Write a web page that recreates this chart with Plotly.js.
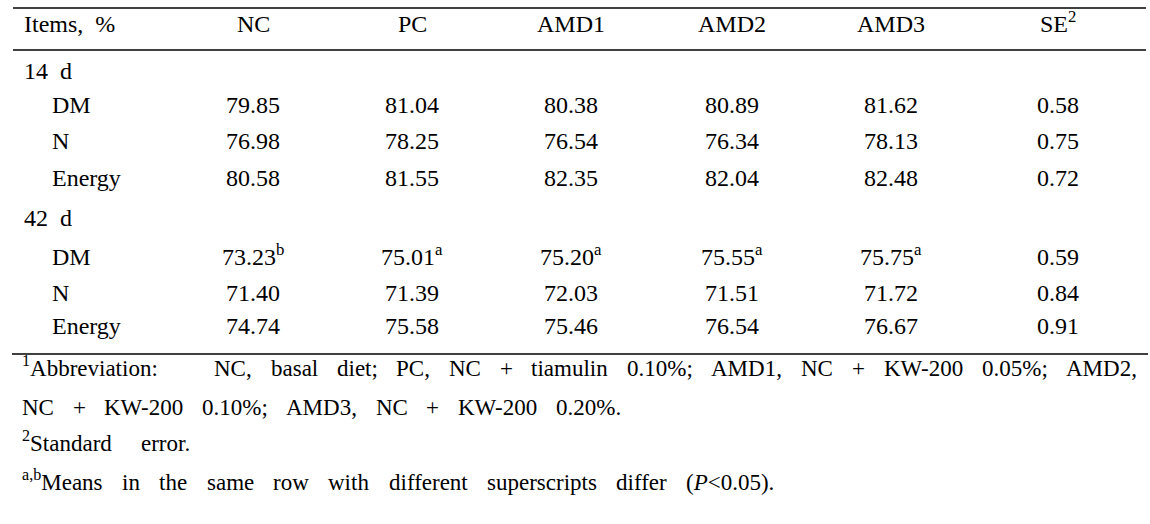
<!DOCTYPE html>
<html><head><meta charset="utf-8">
<script src="https://cdn.plot.ly/plotly-3.0.1.min.js"></script>
<style>html,body{margin:0;padding:0;background:#fff;overflow:hidden}</style>
</head><body><div id="chart" style="width:1150px;height:524px"></div>
<script>
// ---- data ----
const columns = ['NC', 'PC', 'AMD1', 'AMD2', 'AMD3', 'SE<sup>2</sup>'];
const itemsHeader = 'Items,\u00a0\u00a0%';
const periods = ['14\u00a0\u00a0d', '42\u00a0\u00a0d'];
const items = ['DM', 'N', 'Energy'];
const d14DM = [79.85, 81.04, 80.38, 80.89, 81.62, 0.58];
const d14N = [76.98, 78.25, 76.54, 76.34, 78.13, 0.75];
const d14Energy = [80.58, 81.55, 82.35, 82.04, 82.48, 0.72];
const d42DM = [73.23, 75.01, 75.20, 75.55, 75.75, 0.59];
const d42N = [71.40, 71.39, 72.03, 71.51, 71.72, 0.84];
const d42Energy = [74.74, 75.58, 75.46, 76.54, 76.67, 0.91];
const d42DMsup = ['b', 'a', 'a', 'a', 'a', ''];
const footnote1 = '<sup>1</sup>Abbreviation:   NC, basal diet; PC, NC + tiamulin 0.10%; AMD1, NC + KW-200 0.05%; AMD2,';
const footnote2 = 'NC + KW-200 0.10%; AMD3, NC + KW-200 0.20%.';
const footnote3 = '<sup>2</sup>Standard error.';
const footnote4 = '<sup>a,b</sup>Means in the same row with different superscripts differ (<i>P</i>&lt;0.05).';

// ---- layout (positions / styles) ----
const W = 1150, H = 524;
const FONT = 'Liberation Serif';
const FS = 24, FFS = 23;
const colX = [253, 412, 571, 732, 891, 1058];
const labelX = 24, itemX = 52;
const headerBase = 32;
const periodBase = [79, 226];
const itemBase = [[113, 149, 186], [265, 301, 334]];
const footBase = [376, 415, 451, 490];
const footStart = 22;
const footEnd = [1137, 621, 190, 773];

const ann = [];
function addText(text, x, base, anchor, size) {
  ann.push({
    text: text, x: x, y: base + 0.216 * size, xref: 'x', yref: 'y',
    xanchor: anchor, yanchor: 'bottom', showarrow: false,
    borderpad: 0, borderwidth: 0,
    font: {family: FONT, size: size, color: '#000'}
  });
}

// header
addText(itemsHeader, labelX, headerBase, 'left', FS);
columns.forEach((c, i) => addText(c, colX[i], headerBase, 'center', FS));

// body
const blocks = [
  [d14DM, d14N, d14Energy],
  [d42DM, d42N, d42Energy]
];
const sups = [[null, null, null], [d42DMsup, null, null]];
blocks.forEach((rows, p) => {
  addText(periods[p], labelX, periodBase[p], 'left', FS);
  rows.forEach((vals, r) => {
    addText(items[r], itemX, itemBase[p][r], 'left', FS);
    vals.forEach((v, i) => {
      let t = v.toFixed(2);
      const s = sups[p][r];
      if (s && s[i]) t += '<sup>' + s[i] + '</sup>';
      addText(t, colX[i], itemBase[p][r], 'center', FS);
    });
  });
});

// footnotes: distribute words between start and end
const cv = document.createElement('canvas').getContext('2d');
function mw(s, size) {
  s = s.replace(/<\/?i>/g, '').replace(/&lt;/g, '<');
  cv.font = size + 'px "Liberation Serif"';
  return cv.measureText(s).width;
}
function tokWidth(tok, size) {
  let w = 0, last = 0, m;
  const re = /<sup>(.*?)<\/sup>/g;
  while ((m = re.exec(tok))) {
    w += mw(tok.slice(last, m.index), size);
    w += mw(m[1], size * 0.7);
    last = re.lastIndex;
  }
  return w + mw(tok.slice(last), size);
}
[footnote1, footnote2, footnote3, footnote4].forEach((line, li) => {
  const toks = line.split(' ');
  const widths = toks.map(t => tokWidth(t, FFS));
  const total = widths.reduce((a, b) => a + b, 0);
  const gap = (footEnd[li] - footStart - total) / (toks.length - 1);
  let x = footStart;
  toks.forEach((t, k) => {
    if (t) addText(t, x, footBase[li], 'left', FFS);
    x += widths[k] + gap;
  });
});

// rules
const rule = (x0, x1, y) => ({type: 'line', xref: 'x', yref: 'y', x0: x0, x1: x1, y0: y, y1: y,
  line: {color: '#000', width: 1.6}});
const shapes = [rule(13, 1146, 8), rule(13, 1146, 50), rule(12, 1148, 354)];

Plotly.newPlot('chart', [], {
  width: W, height: H,
  margin: {l: 0, r: 0, t: 0, b: 0, pad: 0},
  paper_bgcolor: '#fff', plot_bgcolor: '#fff',
  xaxis: {range: [0, W], visible: false, fixedrange: true},
  yaxis: {range: [H, 0], visible: false, fixedrange: true},
  showlegend: false,
  annotations: ann,
  shapes: shapes
}, {displayModeBar: false, staticPlot: true});
</script>
</body></html>
